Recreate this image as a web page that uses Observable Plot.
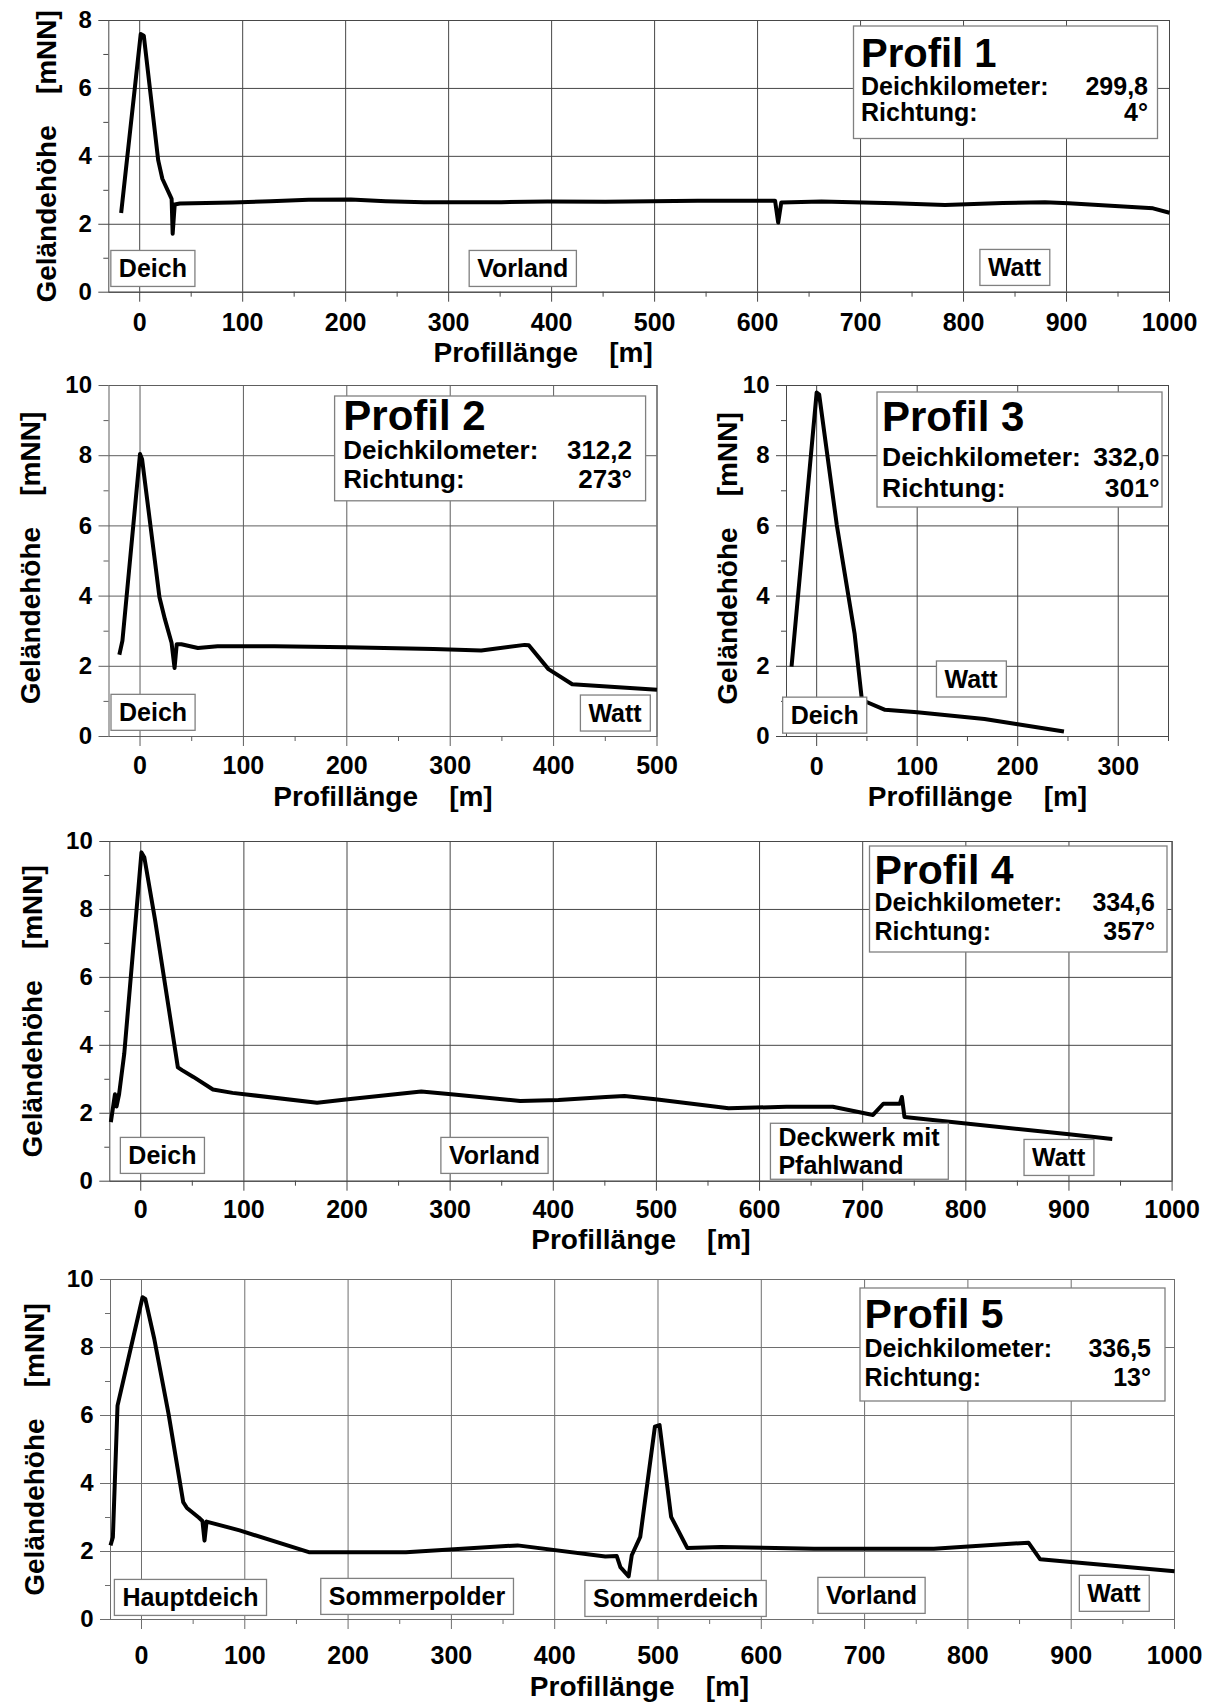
<!DOCTYPE html>
<html>
<head>
<meta charset="utf-8">
<script src="https://cdn.jsdelivr.net/npm/d3@7"></script>
<script src="https://cdn.jsdelivr.net/npm/@observablehq/plot@0.6"></script>
<style>
html, body { margin: 0; padding: 0; background: #fff; }
#page { position: relative; width: 1210px; height: 1702px; overflow: hidden; background: #fff; }
#page svg { position: absolute; left: 0; overflow: visible; }
</style>
</head>
<body>
<div id="page"></div>
<script>
// ---------- data ----------
const profil1X = [-18, 1, 4, 18, 22, 31, 32, 34, 39, 90, 127, 164, 205, 239, 276, 351, 396, 452, 542, 617, 620, 623, 662, 733, 782, 838, 879, 902, 984, 1000];
const profil1Y = [2.33, 7.6, 7.55, 3.88, 3.34, 2.75, 1.72, 2.58, 2.61, 2.64, 2.68, 2.72, 2.73, 2.68, 2.65, 2.65, 2.67, 2.66, 2.69, 2.69, 2.05, 2.64, 2.67, 2.62, 2.57, 2.63, 2.65, 2.62, 2.47, 2.34];

const profil2X = [-20, -17, 0, 2, 18.8, 24, 30.5, 33.4, 35.5, 40, 56, 75, 130, 200, 284, 330, 372, 376, 395, 418, 500];
const profil2Y = [2.33, 2.73, 8.05, 7.9, 3.97, 3.35, 2.67, 1.95, 2.63, 2.63, 2.52, 2.57, 2.57, 2.54, 2.49, 2.45, 2.61, 2.6, 1.92, 1.49, 1.33];

const profil3X = [-25, 0, 2.5, 20, 37.7, 45, 68, 100, 167, 200, 246];
const profil3Y = [1.99, 9.8, 9.74, 6.03, 2.94, 1.04, 0.76, 0.69, 0.5, 0.35, 0.14];

const profil4X = [-29, -25, -23.5, -21, -16, 0.7, 3.5, 14, 27, 36, 40, 51, 70, 89, 171, 201, 272, 301, 368, 405, 451, 469, 499, 570, 626, 671, 710, 720, 736, 738, 740.5, 900, 942];
const profil4Y = [1.74, 2.56, 2.2, 2.56, 3.75, 9.68, 9.53, 7.67, 5.12, 3.35, 3.27, 3.07, 2.7, 2.6, 2.31, 2.41, 2.64, 2.56, 2.36, 2.39, 2.48, 2.51, 2.41, 2.15, 2.19, 2.19, 1.95, 2.28, 2.28, 2.48, 1.89, 1.38, 1.24];

const profil5X = [-30, -27.7, -23.2, 1, 3.7, 12.4, 26.2, 40.4, 44, 55.4, 59, 61, 63, 95, 162, 256, 364, 449, 460, 463.6, 471.6, 474.6, 482.8, 497, 501.5, 512.7, 528.4, 561, 651, 767, 858.6, 870, 1000];
const profil5Y = [2.18, 2.42, 6.29, 9.48, 9.43, 8.25, 6.05, 3.45, 3.28, 3.0, 2.9, 2.32, 2.88, 2.62, 1.98, 1.98, 2.18, 1.85, 1.87, 1.54, 1.27, 1.89, 2.43, 5.67, 5.72, 3.02, 2.10, 2.13, 2.08, 2.08, 2.26, 1.77, 1.42];

const profilNames = ["Profil 1", "Profil 2", "Profil 3", "Profil 4", "Profil 5"];
const deichkilometer = ["299,8", "312,2", "332,0", "334,6", "336,5"];
const richtung = ["4°", "273°", "301°", "357°", "13°"];

// region labels (text, x in m, y in mNN)
const labels1Text = ["Deich", "Vorland", "Watt"];
const labels1X = [12.8, 372, 849.5];
const labels1Y = [0.67, 0.67, 0.7];
const labels2Text = ["Deich", "Watt"];
const labels2X = [12.6, 459.4];
const labels2Y = [0.66, 0.64];
const labels3Text = ["Deich", "Watt"];
const labels3X = [8, 153.6];
const labels3Y = [0.58, 1.61];
const labels4Text = ["Deich", "Vorland", "Watt"];
const labels4X = [21, 343, 890];
const labels4Y = [0.73, 0.73, 0.67];
const labels4MultiText = ["Deckwerk mit\nPfahlwand"];
const labels4MultiX = [618.3];
const labels4MultiY = [0.88];
const labels5Text = ["Hauptdeich", "Sommerpolder", "Sommerdeich", "Vorland", "Watt"];
const labels5X = [47.4, 266.7, 517, 706.7, 941.4];
const labels5Y = [0.62, 0.65, 0.59, 0.68, 0.74];

const xTitle = "Profillänge\u00a0\u00a0\u00a0\u00a0[m]";
const yTitle = "Geländehöhe\u00a0\u00a0\u00a0\u00a0[mNN]";

// ---------- layout ----------
const FONT = '"Liberation Sans", Arial, Helvetica, sans-serif';
const BOX = "#808080";

const panels = [
  {xs: profil1X, ys: profil1Y, lt: labels1Text, lx: labels1X, ly: labels1Y,
   top: 0, h: 380, fl: 108.3, fr: 1169, ft: 20, fb: 291.7, xMax: 1000, yMax: 8, grid: "#474747",
   xPad: 11, xtDy: 61, xtDx: -96, ytDx: -62, ytDy: 0,
   info: {x0: 853.5, y0: 26, x1: 1157.5, y1: 138.5, tx: 861, rx: 1148, b1: 66.5, b2: 94.5, b3: 121, fs1: 40, fs2: 25}},
  {xs: profil2X, ys: profil2Y, lt: labels2Text, lx: labels2X, ly: labels2Y,
   top: 370, h: 470, fl: 108.5, fr: 656.5, ft: 385, fb: 736, xMax: 500, yMax: 10, grid: "#5e5e5e",
   xPad: 10, xtDy: 61, xtDx: 0, ytDx: -78, ytDy: -3,
   info: {x0: 334.6, y0: 396, x1: 645.6, y1: 500.8, tx: 343.3, rx: 632, b1: 430, b2: 459.4, b3: 488.4, fs1: 42, fs2: 26}},
  {xs: profil3X, ys: profil3Y, lt: labels3Text, lx: labels3X, ly: labels3Y,
   top: 370, h: 470, fl: 786, fr: 1168, ft: 385, fb: 736, xMax: 350, yMax: 10, grid: "#474747",
   xPad: 11, xtDy: 61, xtDx: 0, ytDx: -58.7, ytDy: -2.5,
   info: {x0: 877, y0: 392, x1: 1162, y1: 507, tx: 882, rx: 1159.5, b1: 431, b2: 466, b3: 497, fs1: 42, fs2: 26.5}},
  {xs: profil4X, ys: profil4Y, lt: labels4Text, lx: labels4X, ly: labels4Y,
   multi: {t: labels4MultiText, x: labels4MultiX, y: labels4MultiY},
   top: 830, h: 440, fl: 109.3, fr: 1171.6, ft: 841, fb: 1180.7, xMax: 1000, yMax: 10, grid: "#474747",
   xPad: 9, xtDy: 59, xtDx: 0, ytDx: -76.5, ytDy: 0,
   info: {x0: 869.5, y0: 846, x1: 1167, y1: 952, tx: 874.5, rx: 1155, b1: 884, b2: 911, b3: 940, fs1: 41, fs2: 25}},
  {xs: profil5X, ys: profil5Y, lt: labels5Text, lx: labels5X, ly: labels5Y,
   top: 1262, h: 440, fl: 110, fr: 1174, ft: 1279, fb: 1619, xMax: 1000, yMax: 10, grid: "#6e6e6e",
   xPad: 17, xtDy: 68, xtDx: -3, ytDx: -75, ytDy: 0,
   info: {x0: 860, y0: 1288, x1: 1165, y1: 1401, tx: 864.5, rx: 1151, b1: 1328, b2: 1357, b3: 1386, fs1: 41, fs2: 25}}
];

const page = document.getElementById("page");

function drawPanel(c, idx) {
  const xMajor = d3.range(0, c.xMax + 1, 100);
  const xMinor = d3.range(50, c.xMax + 1, 100);
  const yMajor = d3.range(0, c.yMax + 1, 2);
  const yMinor = d3.range(1, c.yMax, 2);
  const line = c.xs.map((x, i) => ({x, y: c.ys[i]}));
  const labels = c.lt.map((t, i) => ({text: t, x: c.lx[i], y: c.ly[i]}));
  const multi = c.multi ? c.multi.t.map((t, i) => ({text: t, x: c.multi.x[i], y: c.multi.y[i]})) : [];

  const svg = Plot.plot({
    width: 1210,
    height: c.h,
    marginLeft: c.fl,
    marginRight: 1210 - c.fr,
    marginTop: c.ft - c.top,
    marginBottom: c.top + c.h - c.fb,
    x: {domain: [-30, c.xMax]},
    y: {domain: [0, c.yMax]},
    style: {background: "transparent", fontFamily: FONT, fontSize: "24px", fontWeight: "bold", color: "black", overflow: "visible"},
    marks: [
      Plot.gridX(xMajor, {stroke: c.grid, strokeOpacity: 1, strokeWidth: 1}),
      Plot.gridY(yMajor, {stroke: c.grid, strokeOpacity: 1, strokeWidth: 1}),
      Plot.frame({stroke: c.grid, strokeWidth: 1}),
      Plot.axisX(xMajor, {tickSize: 10, tickPadding: c.xPad, stroke: c.grid, fill: "black", fontSize: 25, fontWeight: "bold", tickFormat: d => String(d), label: null}),
      Plot.axisX(xMinor, {tickSize: 5, tickFormat: () => "", stroke: c.grid, label: null}),
      Plot.axisY(yMajor, {tickSize: 10, tickPadding: 7, stroke: c.grid, fill: "black", fontSize: 24, fontWeight: "bold", tickFormat: d => String(d), label: null}),
      Plot.axisY(yMinor, {tickSize: 5, tickFormat: () => "", stroke: c.grid, label: null}),
      Plot.line(line, {x: "x", y: "y", stroke: "black", strokeWidth: 4, strokeLinejoin: "round", strokeLinecap: "butt"}),
      Plot.text(labels, {x: "x", y: "y", text: "text", fontSize: 25, fontWeight: "bold", fill: "black", textAnchor: "middle", lineAnchor: "middle"}),
      Plot.text(multi, {x: "x", y: "y", text: "text", fontSize: 25, fontWeight: "bold", fill: "black", textAnchor: "start", lineAnchor: "middle", lineHeight: 1.12}),
      Plot.text([xTitle], {text: d => d, frameAnchor: "bottom", textAnchor: "middle", lineAnchor: "middle", dy: c.xtDy, dx: c.xtDx, fontSize: 28, fontWeight: "bold", fill: "black"}),
      Plot.text([yTitle], {text: d => d, frameAnchor: "left", textAnchor: "middle", lineAnchor: "middle", dx: c.ytDx, dy: c.ytDy, rotate: -90, fontSize: 28, fontWeight: "bold", fill: "black"})
    ]
  });
  svg.style.top = c.top + "px";
  svg.style.left = "0px";
  page.appendChild(svg);

  // white boxes with grey border behind the region labels
  const boxed = new Set([...c.lt, ...(c.multi ? c.multi.t.map(t => t.replace(/\n/g, "")) : [])]);
  svg.querySelectorAll("text").forEach(t => {
    if (!boxed.has(t.textContent)) return;
    const isMulti = t.querySelectorAll("tspan").length > 1;
    const b = t.getBBox();
    const padX = 8, padY = isMulti ? 0 : 4;
    const r = document.createElementNS("http://www.w3.org/2000/svg", "rect");
    r.setAttribute("x", b.x - padX);
    r.setAttribute("y", b.y - padY);
    r.setAttribute("width", b.width + 2 * padX);
    r.setAttribute("height", b.height + 2 * padY);
    r.setAttribute("fill", "white");
    r.setAttribute("stroke", BOX);
    r.setAttribute("stroke-width", 1.3);
    const tr = t.getAttribute("transform");
    if (tr) r.setAttribute("transform", tr);
    t.parentNode.insertBefore(r, t);
  });

  // info box (legend-like annotation)
  const ib = c.info;
  const g = d3.select(svg).append("g")
    .attr("font-family", FONT).attr("font-weight", "bold").attr("fill", "black")
    .attr("text-anchor", "start");
  g.append("rect")
    .attr("x", ib.x0).attr("y", ib.y0 - c.top)
    .attr("width", ib.x1 - ib.x0).attr("height", ib.y1 - ib.y0)
    .attr("fill", "white").attr("stroke", BOX).attr("stroke-width", 1.3);
  g.append("text").attr("x", ib.tx).attr("y", ib.b1 - c.top).attr("text-anchor", "start").attr("font-size", ib.fs1).text(profilNames[idx]);
  g.append("text").attr("x", ib.tx).attr("y", ib.b2 - c.top).attr("text-anchor", "start").attr("font-size", ib.fs2).text("Deichkilometer:");
  g.append("text").attr("x", ib.rx).attr("y", ib.b2 - c.top).attr("text-anchor", "end").attr("font-size", ib.fs2).text(deichkilometer[idx]);
  g.append("text").attr("x", ib.tx).attr("y", ib.b3 - c.top).attr("text-anchor", "start").attr("font-size", ib.fs2).text("Richtung:");
  g.append("text").attr("x", ib.rx).attr("y", ib.b3 - c.top).attr("text-anchor", "end").attr("font-size", ib.fs2).text(richtung[idx]);
}

panels.forEach((c, i) => drawPanel(c, i));
</script>
</body>
</html>
